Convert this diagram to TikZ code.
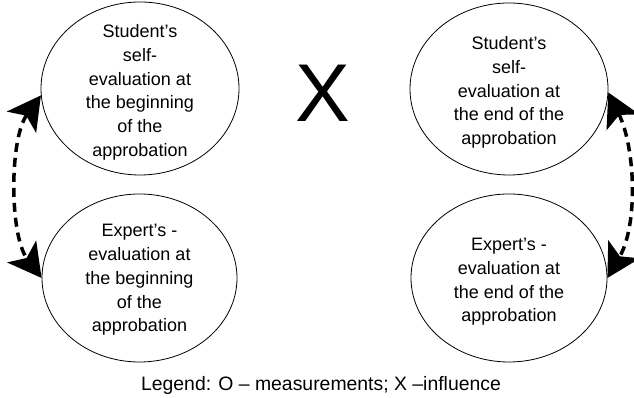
\documentclass[tikz,border=0pt]{standalone}
\usepackage{fontspec}
\setmainfont{Liberation Sans}
\usetikzlibrary{arrows.meta,shapes.geometric}
\begin{document}
\begin{tikzpicture}[x=1pt,y=1pt,
  oval/.style={ellipse, draw, line width=0.8pt, inner sep=0pt},
  txt/.style={align=center, inner sep=0pt, font=\fontsize{18}{23.7}\selectfont},
  link/.style={line width=3.5pt, dash pattern=on 9pt off 6pt, {Stealth[length=33pt,width=36pt,inset=8pt]}-{Stealth[length=33pt,width=36pt,inset=8pt]}}]
\useasboundingbox (0,0) rectangle (634,398);
\node[oval, minimum width=198pt, minimum height=173pt] (tl) at (140,309.5) {};
\node[txt] (tlt) at (140,305.5) {Student’s\\self-\\evaluation at\\the beginning\\of the\\approbation};
\node[oval, minimum width=195pt, minimum height=168pt] (bl) at (139.5,120) {};
\node[txt] (blt) at (139.5,118) {Expert’s -\\evaluation at\\the beginning\\of the\\approbation};
\node[oval, minimum width=198pt, minimum height=172pt] (tr) at (509,309) {};
\node[txt] (trt) at (509,305.5) {Student’s\\self-\\evaluation at\\the end of the\\approbation};
\node[oval, minimum width=196pt, minimum height=168pt] (br) at (509,120) {};
\node[txt] (brt) at (509,116) {Expert’s -\\evaluation at\\the end of the\\approbation};
\node[font=\fontsize{82}{82}\selectfont, inner sep=0pt, anchor=base] (x) at (322.5,276) {X};
\node[font=\fontsize{19.4}{22}\selectfont, inner sep=0pt, anchor=base] (legend) at (321,7) {Legend: O – measurements; X –influence};
\draw[link] (tl.184) to[out=234, in=127, looseness=0.75] (bl.west);
\draw[link] (tr.358) to[out=-64, in=60, looseness=0.85] (br.east);
\end{tikzpicture}
\end{document}
